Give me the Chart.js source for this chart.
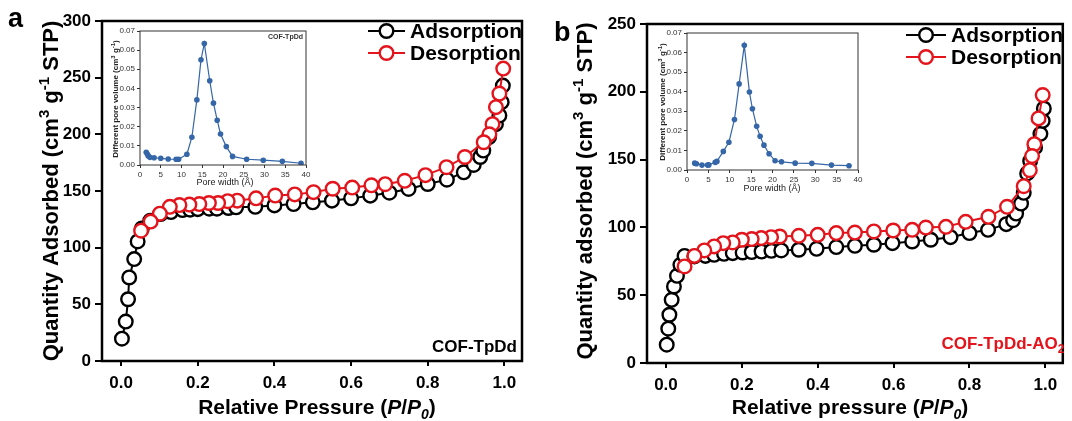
<!DOCTYPE html>
<html>
<head>
<meta charset="utf-8">
<script src="https://cdn.jsdelivr.net/npm/chart.js@4.4.1/dist/chart.umd.min.js"></script>
<style>
  body { margin: 0; background: #fff; }
  #wrap { position: relative; width: 1072px; height: 421px; overflow: hidden; }
  canvas { position: absolute; }
</style>
</head>
<body>
<div id="wrap">
  <canvas id="mainA" width="540" height="421" style="left:0;top:0"></canvas>
  <canvas id="mainB" width="532" height="421" style="left:540px;top:0"></canvas>
  <canvas id="insetA" width="220" height="180" style="left:95px;top:20px"></canvas>
  <canvas id="insetB" width="225" height="185" style="left:640px;top:20px"></canvas>
</div>
<script>
// ---- data: COF-TpDd (a)
var A_ADS_P = [0.002,0.012,0.018,0.021,0.034,0.043,0.054,0.076,0.103,0.13,0.16,0.18,0.2,0.23,0.25,0.28,0.3,0.35,0.4,0.45,0.5,0.55,0.6,0.65,0.7,0.75,0.8,0.85,0.894,0.92,0.937,0.945,0.96,0.978,0.987,0.993,0.996];
var A_ADS_Q = [19.7,34.8,54.5,73.7,89.9,105.5,117,123.8,129.7,131.4,133.2,133.5,134,134.4,134.4,135,135.6,136,137.3,138.5,140,141.5,143.5,145.9,148.5,151.8,156.2,160,166.5,173,180,185.7,197.5,209,216.6,228.4,243];
var A_DES_P = [0.997,0.987,0.978,0.969,0.961,0.946,0.897,0.849,0.794,0.74,0.689,0.653,0.603,0.552,0.502,0.453,0.402,0.352,0.303,0.278,0.253,0.229,0.204,0.178,0.152,0.127,0.101,0.077,0.052];
var A_DES_Q = [258,236,224,209,200,193,180,171,164,159,156,155,153,152,149,147,146,143.5,141.5,141,139.4,139.4,138.5,138,137.6,136,130,123,115];
var A_PORE_W = [1.5,1.8,2.0,2.4,3.4,5.0,6.8,8.7,9.3,11.3,12.5,13.7,14.7,15.5,16.8,17.7,18.6,19.4,20.8,22.3,25.7,29.7,34.3,38.8];
var A_PORE_V = [0.0066,0.0056,0.0047,0.0040,0.0038,0.0035,0.0031,0.003,0.003,0.0056,0.0145,0.034,0.055,0.0635,0.044,0.0323,0.0234,0.0162,0.0096,0.0045,0.003,0.0025,0.0019,0.0009];

// ---- data: COF-TpDd-AO2 (b)
var B_ADS_P = [0.002,0.006,0.009,0.015,0.021,0.029,0.038,0.049,0.075,0.104,0.127,0.153,0.176,0.202,0.226,0.252,0.278,0.304,0.35,0.397,0.449,0.498,0.548,0.597,0.649,0.698,0.75,0.80,0.849,0.897,0.915,0.923,0.936,0.943,0.952,0.96,0.973,0.987,0.993,0.996];
var B_ADS_Q = [13.5,25.3,35.6,46.6,56.4,64.3,72.4,79,78.6,79,79.8,80.5,81,81.5,81.8,82.2,82.7,83,83.5,84.2,85.5,86.4,87.2,88.4,89.6,90.9,92.8,95.8,98.2,102.4,105.3,110.2,117.6,125.5,139.8,149,159,169,178.6,187.7];
var B_DES_P = [0.993,0.982,0.971,0.965,0.959,0.943,0.899,0.85,0.79,0.738,0.685,0.649,0.599,0.548,0.498,0.449,0.4,0.35,0.30,0.277,0.251,0.226,0.2,0.176,0.151,0.127,0.101,0.075,0.049];
var B_DES_Q = [197.6,180.4,161.4,152.6,142.2,130.4,115.2,107.8,104.1,100.4,99.9,98.2,97.7,97,96.2,95.8,94.5,93.8,93.3,92.8,92.1,91.4,90.9,88.9,88.4,86,83,79,71.2];
var B_PORE_W = [1.8,2.2,3.5,4.8,5.1,6.6,7.0,8.5,9.8,11.1,12.2,13.4,14.6,15.3,16.3,17.1,18.0,19.2,20.6,22.1,25.3,29.2,33.8,37.9];
var B_PORE_V = [0.0035,0.0032,0.0025,0.0025,0.0026,0.0039,0.0044,0.0095,0.0142,0.0258,0.0440,0.0637,0.0398,0.0313,0.0223,0.0172,0.0127,0.0083,0.0047,0.0042,0.0035,0.0034,0.0025,0.0022];

var P_TICKS = [0, 0.2, 0.4, 0.6, 0.8, 1.0];
var A_Q_TICKS = [0, 50, 100, 150, 200, 250, 300];
var B_Q_TICKS = [0, 50, 100, 150, 200, 250];
var W_TICKS = [0, 5, 10, 15, 20, 25, 30, 35, 40];
var V_TICKS = [0, 0.01, 0.02, 0.03, 0.04, 0.05, 0.06, 0.07];

var FAM = '"Liberation Sans", Arial, sans-serif';
var RED = '#e3141b';
var BLUE = '#3566a8';

function pts(xs, ys) { return xs.map(function (x, i) { return { x: x, y: ys[i] }; }); }

// text made of runs (superscripts, italics), centred on x
function rich(ctx, parts, x, y, angle, color) {
  ctx.save();
  ctx.translate(x, y);
  ctx.rotate(angle || 0);
  ctx.fillStyle = color || '#000';
  ctx.textBaseline = 'alphabetic';
  ctx.textAlign = 'left';
  var w = 0;
  parts.forEach(function (p) { ctx.font = p.f; p.w = ctx.measureText(p.t).width; w += p.w; });
  var cx = -w / 2;
  parts.forEach(function (p) { ctx.font = p.f; ctx.fillText(p.t, cx, p.dy || 0); cx += p.w; });
  ctx.restore();
}

function legend(ctx, x1, x2, tx, rows) {
  rows.forEach(function (r) {
    ctx.save();
    ctx.strokeStyle = r.c; ctx.lineWidth = 2;
    ctx.beginPath(); ctx.moveTo(x1, r.y); ctx.lineTo(x2, r.y); ctx.stroke();
    ctx.beginPath(); ctx.arc((x1 + x2) / 2, r.y, 6.8, 0, Math.PI * 2);
    ctx.fillStyle = '#fff'; ctx.fill(); ctx.lineWidth = 2.4; ctx.stroke();
    ctx.fillStyle = '#000'; ctx.font = 'bold 21px ' + FAM;
    ctx.textBaseline = 'middle'; ctx.fillText(r.t, tx, r.y + 1);
    ctx.restore();
  });
}

function frame(lw, color) {
  return {
    id: 'frame',
    afterDraw: function (chart) {
      var a = chart.chartArea, ctx = chart.ctx;
      ctx.save(); ctx.strokeStyle = color; ctx.lineWidth = lw;
      ctx.strokeRect(a.left, a.top, a.right - a.left, a.bottom - a.top);
      ctx.restore();
    }
  };
}

function axis(min, max, ticks, fmt, fit, o) {
  return {
    type: 'linear', min: min, max: max,
    afterBuildTicks: function (s) { s.ticks = ticks.map(function (v) { return { value: v }; }); },
    afterFit: fit,
    border: { display: false },
    grid: { drawOnChartArea: false, color: o.tc, lineWidth: o.tw, tickLength: o.tl },
    ticks: { autoSkip: false, maxRotation: 0, color: o.lc, padding: o.pad,
             font: { family: FAM, size: o.fs, weight: o.fw },
             callback: function (v) { return fmt(v); } }
  };
}

function isoDatasets(adsP, adsQ, desP, desQ) {
  var base = { showLine: true, borderWidth: 2, pointRadius: 6.8, pointBorderWidth: 2.4,
               pointBackgroundColor: '#fff', pointHoverRadius: 6.8 };
  return [
    Object.assign({ label: 'Desorption', data: pts(desP, desQ), borderColor: RED, pointBorderColor: RED, order: 0 }, base),
    Object.assign({ label: 'Adsorption', data: pts(adsP, adsQ), borderColor: '#000', pointBorderColor: '#000', order: 1 }, base)
  ];
}

function mainChart(id, cfg) {
  var big = { tc: '#000', tw: 2, lc: '#000', fs: 17, fw: 'bold' };
  return new Chart(document.getElementById(id), {
    type: 'scatter',
    data: { datasets: cfg.datasets },
    options: {
      animation: false, responsive: false, events: [],
      layout: { padding: cfg.pad },
      plugins: { legend: { display: false }, tooltip: { enabled: false } },
      scales: {
        x: axis(-0.05, 1.046, P_TICKS, function (v) { return v.toFixed(1); },
                function (s) { s.height = cfg.xh; }, Object.assign({ tl: 5, pad: 7 }, big)),
        y: axis(0, cfg.ymax, cfg.yticks, function (v) { return String(v); },
                function (s) { s.width = cfg.yw; }, Object.assign({ tl: 7, pad: 4 }, big))
      }
    },
    plugins: [frame(2.5, '#000'), { id: 'deco', afterDraw: function (c) { cfg.deco(c.ctx); } }]
  });
}

function insetChart(id, cfg) {
  var sm = { tc: '#333', tw: 1, lc: '#333', fs: 8, fw: 'normal' };
  return new Chart(document.getElementById(id), {
    type: 'scatter',
    data: { datasets: [{ data: pts(cfg.w, cfg.v), showLine: true, borderColor: BLUE, borderWidth: 1.2,
                         pointRadius: 2.8, pointBackgroundColor: BLUE, pointBorderColor: BLUE, pointBorderWidth: 0 }] },
    options: {
      animation: false, responsive: false, events: [],
      layout: { padding: cfg.pad },
      plugins: { legend: { display: false }, tooltip: { enabled: false } },
      scales: {
        x: axis(0, 40, W_TICKS, function (v) { return String(v); },
                function (s) { s.height = cfg.xh; }, Object.assign({ tl: 3, pad: 2 }, sm)),
        y: axis(0, 0.07, V_TICKS, function (v) { return v.toFixed(2); },
                function (s) { s.width = cfg.yw; }, Object.assign({ tl: 3, pad: 2 }, sm))
      }
    },
    plugins: [frame(1, '#333'), { id: 'deco', afterDraw: function (c) { cfg.deco(c.ctx); } }]
  });
}

var B22 = 'bold 22px ' + FAM, S15 = 'bold 15px ' + FAM;
var B21 = 'bold 21px ' + FAM, I21 = 'italic bold 21px ' + FAM, I14 = 'italic bold 14px ' + FAM;

function yTitle(word) {
  return [{ t: 'Quantity ' + word + ' (cm', f: B22 }, { t: '3', f: S15, dy: -9 },
          { t: ' g', f: B22 }, { t: '-1', f: S15, dy: -9 }, { t: ' STP)', f: B22 }];
}
function xTitle(word) {
  return [{ t: 'Relative ' + word + ' (', f: B21 }, { t: 'P', f: I21 }, { t: '/', f: B21 },
          { t: 'P', f: I21 }, { t: '0', f: I14, dy: 5 }, { t: ')', f: B21 }];
}

mainChart('mainA', {
  datasets: isoDatasets(A_ADS_P, A_ADS_Q, A_DES_P, A_DES_Q),
  pad: { left: 0, top: 21, right: 18, bottom: 0 }, xh: 60, yw: 102,
  ymax: 300, yticks: A_Q_TICKS,
  deco: function (ctx) {
    rich(ctx, yTitle('Adsorbed'), 58, 191, -Math.PI / 2);
    rich(ctx, xTitle('Pressure'), 317, 414, 0);
    ctx.save(); ctx.font = 'bold 27px ' + FAM; ctx.fillStyle = '#000';
    ctx.fillText('a', 8, 27);
    ctx.font = 'bold 17px ' + FAM; ctx.textAlign = 'right'; ctx.fillText('COF-TpDd', 517, 352);
    ctx.restore();
    legend(ctx, 368, 405, 410, [{ t: 'Adsorption', c: '#000', y: 31 }, { t: 'Desorption', c: RED, y: 53 }]);
  }
});

mainChart('mainB', {
  datasets: isoDatasets(B_ADS_P, B_ADS_Q, B_DES_P, B_DES_Q),
  pad: { left: 0, top: 24, right: 2, bottom: 0 }, xh: 58, yw: 107,
  ymax: 250, yticks: B_Q_TICKS,
  deco: function (ctx) {
    rich(ctx, yTitle('adsorbed'), 52, 191, -Math.PI / 2);
    rich(ctx, xTitle('pressure'), 310, 414, 0);
    ctx.save(); ctx.font = 'bold 27px ' + FAM; ctx.fillStyle = '#000';
    ctx.fillText('b', 14, 41);
    ctx.restore();
    rich(ctx, [{ t: 'COF-TpDd-AO', f: 'bold 17px ' + FAM }, { t: '2', f: 'bold 12px ' + FAM, dy: 4 }],
         463, 349, 0, RED);
    legend(ctx, 366, 406, 411, [{ t: 'Adsorption', c: '#000', y: 35 }, { t: 'Desorption', c: RED, y: 57 }]);
  }
});

function insetY(ctx, x, y) {
  var f = 'bold 8px ' + FAM, s = 'bold 6px ' + FAM;
  rich(ctx, [{ t: 'Different pore volume (cm', f: f }, { t: '3', f: s, dy: -3 },
             { t: ' g', f: f }, { t: '-1', f: s, dy: -3 }, { t: ')', f: f }], x, y, -Math.PI / 2, '#222');
}

insetChart('insetA', {
  w: A_PORE_W, v: A_PORE_V, pad: { left: 0, top: 11, right: 9, bottom: 0 }, xh: 35, yw: 45,
  deco: function (ctx) {
    insetY(ctx, 23, 79);
    rich(ctx, [{ t: 'Pore width (\u00c5)', f: '9px ' + FAM }], 130, 165, 0, '#222');
    ctx.save(); ctx.font = 'bold 7px ' + FAM; ctx.fillStyle = '#333'; ctx.textAlign = 'right';
    ctx.fillText('COF-TpDd', 208, 19); ctx.restore();
  }
});

insetChart('insetB', {
  w: B_PORE_W, v: B_PORE_V, pad: { left: 0, top: 13, right: 7, bottom: 0 }, xh: 35, yw: 47,
  deco: function (ctx) {
    insetY(ctx, 25, 82);
    rich(ctx, [{ t: 'Pore width (\u00c5)', f: '9px ' + FAM }], 132, 171, 0, '#222');
  }
});
</script>
</body>
</html>
